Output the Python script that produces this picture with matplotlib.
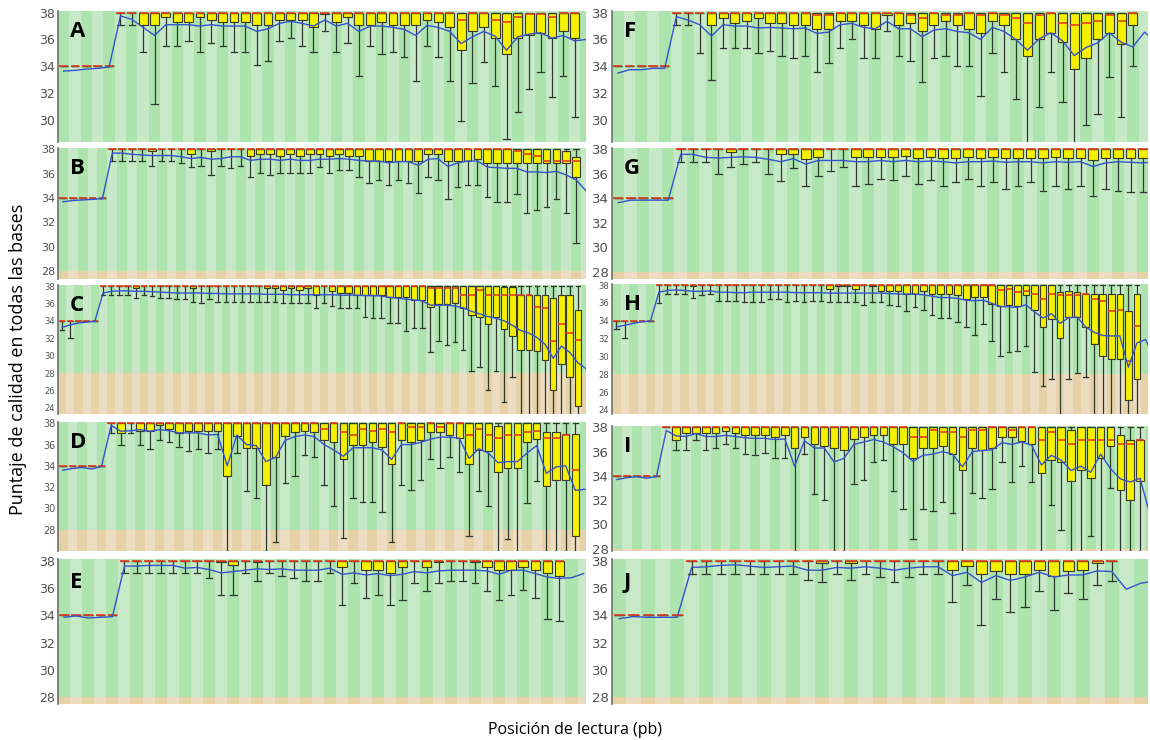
import matplotlib.pyplot as plt
from matplotlib.patches import Rectangle

# Per-base quality (FastQC style).
# first five entries = bases 1-5, then one entry per box; means may carry
# extra trailing values for positions cut off at the right edge.
# med / q3 dicts: box number (1 = first box after base 5) -> value, default 38

a_mean = [33.65, 33.7, 33.8, 33.85, 33.95,
          37.75, 37.5, 36.9, 36.3, 37.1, 37.1, 37.1, 37.0, 37.1, 37.0,
          37.0, 37.0, 36.6, 36.8, 37.2, 37.35, 37.2, 37.0, 37.45, 37.0,
          37.2, 36.6, 37.0, 37.0, 36.9, 36.75, 36.3, 37.05, 36.9, 36.6,
          35.7, 36.2, 36.6, 36.25, 35.2, 36.2, 36.4, 36.5, 36.1, 36.3,
          35.9, 36.0]
a_q1 = [34, 34, 34, 34, 34,
        38, 38, 37.1, 37.1, 37.7, 37.3, 37.3, 37.7, 37.45, 37.3,
        37.3, 37.3, 37.1, 37.1, 37.45, 37.45, 37.45, 36.9, 37.9, 37.3,
        37.7, 37.1, 37.1, 37.3, 37.1, 37.1, 37.1, 37.45, 37.3, 36.9,
        35.25, 36.6, 36.9, 36.1, 34.95, 36.1, 36.3, 36.5, 36.1, 36.6,
        36.1]
a_lo = [34, 34, 34, 34, 34,
        37.1, 37.1, 35.1, 31.2, 35.5, 35.5, 35.9, 35.1, 35.75, 35.5,
        35.1, 35.1, 34.1, 34.4, 35.9, 36.1, 35.5, 35.1, 36.6, 35.1,
        35.75, 33.3, 35.5, 34.95, 35.1, 34.7, 32.9, 35.5, 34.7, 32.9,
        29.95, 32.75, 34.3, 32.55, 28.6, 30.6, 32.3, 33.6, 31.75, 33.3,
        30.2]
a_med = {31: 37.45, 34: 37.45, 35: 37.3, 36: 37.7, 37: 37.9, 38: 37.9, 39: 37.7}
a_q3 = {}

b_mean = [33.7, 33.8, 33.85, 33.9, 33.95,
          37.7, 37.7, 37.6, 37.55, 37.5, 37.5, 37.5, 37.4, 37.25, 37.35,
          37.2, 37.25, 37.4, 37.4, 37.1, 37.2, 37.2, 37.1, 37.2, 37.1,
          37.1, 37.2, 37.2, 37.25, 37.2, 37.1, 37.05, 37.05, 36.9, 37.0,
          37.0, 36.7, 37.2, 37.25, 36.6, 36.9, 37.05, 37.05, 36.55, 36.5,
          36.45, 36.45, 36.15, 36.15, 36.1, 36.2, 35.9, 35.5,
          34.6]
b_q1 = [34, 34, 34, 34, 34,
        38, 38, 38, 38, 37.9, 38, 38, 38, 37.65, 38,
        37.9, 38, 38, 38, 37.5, 37.65, 37.65, 37.5, 37.65, 37.5,
        37.65, 37.65, 37.5, 37.65, 37.5, 37.5, 37.05, 37.05, 37.05, 37.05,
        37.05, 37.05, 37.65, 37.65, 37.05, 37.05, 37.05, 37.25, 36.9, 36.9,
        36.9, 36.85, 36.85, 36.85, 36.85, 36.85, 36.85, 35.7]
b_lo = [34, 34, 34, 34, 34,
        37.05, 37.05, 37.05, 37.05, 36.6, 37.05, 37.05, 36.85, 36.55, 36.6,
        35.9, 36.6, 36.5, 36.6, 35.7, 36.1, 35.9, 36.1, 36.1, 36.1,
        36.1, 36.55, 36.1, 36.3, 36.3, 35.7, 35.25, 35.5, 35.05, 35.5,
        35.25, 34.45, 35.7, 35.5, 33.9, 34.9, 35.05, 35.05, 34.1, 33.7,
        33.7, 34.3, 32.75, 33.05, 33.3, 33.9, 32.75, 30.3]
b_med = {42: 37.9, 43: 37.65, 44: 37.5, 45: 37.05, 46: 37.05, 47: 37.05, 48: 37.05}
b_q3 = {47: 37.85, 48: 37.4}

c_mean = [33.25, 33.55, 33.75, 33.85, 33.95,
          37.2, 37.4, 37.45, 37.45, 37.4, 37.4, 37.35, 37.3, 37.25, 37.2,
          37.2, 37.2, 37.2, 37.15, 37.15, 37.1, 37.1, 37.1, 37.1, 37.1,
          37.05, 37.05, 37.05, 37.0, 37.0, 37.0, 37.0, 37.0, 37.0, 36.95,
          36.95, 36.95, 36.9, 36.9, 36.85, 36.7, 36.6, 36.5, 36.4, 36.3,
          35.8, 35.8, 35.8, 35.7, 35.5, 35.1, 34.8, 34.5, 34.3, 34.0,
          33.5, 32.9, 32.6, 32.1, 31.3, 29.7, 31.1, 30.4, 29.2,
          28.5]
c_q1 = [34, 34, 34, 34, 34,
        38, 38, 38, 38, 37.8, 38, 38, 38, 38, 38,
        38, 37.8, 38, 38, 38, 38, 38, 38, 38, 38,
        37.8, 37.8, 37.6, 37.8, 37.6, 37.8, 37.0, 38, 37.4, 37.25,
        37.25, 37.0, 37.0, 37.0, 37.0, 36.75, 36.75, 36.75, 36.4, 36.4,
        35.6, 35.9, 35.9, 36.0, 35.45, 34.7, 34.5, 33.65, 34.4, 33.1,
        32.25, 30.6, 30.6, 30.5, 29.5, 26.0, 29.0, 27.5, 24.2]
c_lo = [33.0, 32.05, 34, 34, 34,
        37.0, 37.0, 37.0, 37.0, 36.6, 37.0, 36.9, 36.6, 36.6, 36.5,
        36.5, 36.2, 36.1, 36.5, 36.2, 36.2, 36.2, 36.2, 36.2, 36.2,
        36.2, 36.2, 36.1, 36.0, 36.0, 36.0, 35.45, 36.0, 35.75, 35.45,
        35.45, 35.45, 34.5, 34.3, 34.3, 33.75, 33.75, 32.8, 33.2, 33.2,
        30.4, 31.7, 31.25, 31.6, 30.6, 28.2, 28.75, 26.1, 28.2, 24.7,
        27.5, 20, 20, 20, 20, 20, 20, 20, 20]
c_med = {41: 37.8, 42: 37.8, 43: 37.8, 44: 37.8, 45: 37.0, 46: 37.0, 47: 37.5,
         48: 37.0, 49: 37.0, 50: 37.0, 51: 37.0, 52: 36.95, 53: 36.95,
         54: 35.6, 55: 35.45, 56: 31.7, 57: 33.65, 58: 32.6, 59: 31.75}
c_q3 = {50: 37.9, 51: 37.9, 52: 36.95, 53: 36.95, 54: 36.95, 55: 36.95,
        56: 36.6, 57: 36.95, 58: 36.95, 59: 35.25}

d_mean = [33.6, 33.75, 33.85, 33.7, 33.95,
          37.8, 37.25, 37.3, 37.4, 37.25, 37.4, 37.3, 37.1, 37.1, 37.1,
          36.9, 36.95, 34.0, 36.9, 36.0, 35.9, 34.4, 34.8, 36.4, 36.75,
          36.9, 36.75, 36.0, 35.5, 34.9, 35.7, 35.7, 35.7, 35.5, 34.6,
          36.0, 36.0, 36.2, 36.5, 36.7, 36.7, 36.6, 34.7, 35.6, 35.2,
          34.3, 34.4, 34.4, 35.2, 35.9, 33.3, 33.9, 34.0, 31.7,
          31.8]
d_q1 = [34, 34, 34, 34, 34,
        38, 37.1, 38, 37.3, 37.3, 37.8, 37.5, 37.05, 37.3, 37.3,
        37.3, 37.3, 33.0, 36.8, 35.7, 35.7, 32.2, 34.8, 36.8, 37.2,
        37.3, 37.2, 36.45, 36.2, 34.6, 36.0, 36.0, 36.2, 35.8, 34.2,
        36.45, 36.2, 36.45, 37.2, 37.2, 36.9, 36.6, 34.2, 35.5, 35.4,
        33.4, 33.8, 33.8, 36.2, 36.5, 32.15, 32.7, 32.7, 27.4]
d_lo = [34, 34, 34, 34, 34,
        37.1, 36.0, 37.05, 36.0, 35.6, 36.45, 36.2, 35.75, 35.4, 35.6,
        35.2, 35.6, 26.0, 35.2, 31.6, 31.0, 26.0, 26.8, 32.4, 33.0,
        35.0, 34.8, 32.2, 30.25, 27.25, 31.0, 30.6, 30.6, 29.7, 26.8,
        32.2, 31.75, 32.7, 34.6, 33.8, 34.8, 33.4, 27.4, 31.6, 30.25,
        24, 27.1, 24, 30.5, 32.6, 24, 24, 24, 24]
d_med = {23: 37.5, 25: 37.2, 26: 36.9, 27: 37.5, 28: 37.3, 29: 37.5, 30: 37.2,
         32: 37.65, 33: 37.65, 35: 37.65, 38: 36.9, 39: 37.5, 40: 36.9,
         41: 36.6, 42: 36.9, 43: 36.9, 44: 37.2, 45: 37.3, 46: 36.6,
         47: 36.6, 48: 36.9, 49: 33.6}
d_q3 = {41: 37.7, 46: 37.2, 47: 37.2, 48: 37.0, 49: 37.0}

e_mean = [33.85, 33.95, 33.8, 33.85, 33.9,
          37.6, 37.6, 37.65, 37.65, 37.65, 37.45, 37.5, 37.35, 37.1, 37.2,
          37.3, 37.4, 37.35, 37.4, 37.3, 37.3, 37.3, 37.45, 37.0, 37.1,
          36.95, 37.05, 36.9, 37.0, 37.2, 37.1, 37.25, 37.3, 37.3, 37.3,
          37.25, 37.0, 37.3, 37.3, 37.05, 36.8, 36.7,
          36.75, 37.05]
e_q1 = [34, 34, 34, 34, 34,
        38, 38, 38, 38, 38, 38, 38, 38, 37.9, 37.7,
        38, 37.9, 38, 38, 38, 38, 38, 38, 37.5, 38,
        37.35, 37.35, 37.1, 37.5, 38, 37.5, 37.9, 38, 38, 37.9,
        37.5, 37.35, 37.35, 37.5, 37.35, 37.1, 36.9]
e_lo = [34, 34, 34, 34, 34,
        37.1, 37.1, 37.1, 37.1, 37.1, 37.1, 37.1, 36.7, 35.5, 35.5,
        37.1, 36.5, 37.1, 36.9, 36.7, 36.5, 36.5, 37.1, 34.75, 36.35,
        35.3, 35.5, 34.75, 35.1, 36.35, 35.75, 36.35, 36.5, 36.5, 36.35,
        35.75, 35.1, 35.5, 35.85, 35.3, 33.7, 33.55]
e_med = {}
e_q3 = {}

f_mean = [33.5, 33.75, 33.75, 33.85, 33.85,
          37.7, 37.45, 37.1, 36.25, 37.1, 37.0, 37.0, 36.85, 36.9, 36.85,
          36.8, 36.85, 36.45, 36.55, 37.1, 37.2, 36.9, 36.8, 37.35, 36.8,
          36.8, 36.2, 36.7, 36.8, 36.6, 36.5, 36.0, 36.9, 36.6, 36.0,
          35.2, 36.05, 36.5, 35.9, 34.8, 35.4, 35.75, 36.5, 35.8, 35.45,
          36.55, 35.8]
f_q1 = [34, 34, 34, 34, 34,
        38, 38, 38, 37.05, 37.6, 37.2, 37.4, 37.6, 37.2, 37.2,
        37.05, 37.05, 36.8, 36.8, 37.4, 37.4, 37.05, 36.8, 37.8, 37.05,
        37.2, 36.6, 37.05, 37.4, 37.05, 36.8, 36.5, 37.4, 37.05, 36.0,
        34.8, 36.0, 36.5, 35.8, 33.8, 34.6, 36.0, 36.5, 35.65, 37.05]
f_lo = [34, 34, 34, 34, 34,
        37.05, 37.05, 35.0, 33.0, 35.4, 35.4, 35.4, 35.0, 35.15, 34.8,
        34.6, 34.8, 33.6, 34.25, 35.4, 36.0, 34.6, 34.6, 36.6, 34.8,
        34.4, 32.8, 34.6, 34.8, 34.0, 34.0, 31.8, 35.0, 33.6, 31.6,
        27.0, 31.0, 33.6, 31.35, 27.0, 29.6, 30.45, 33.2, 30.2, 34.0]
f_med = {13: 37.8, 14: 37.8, 21: 37.8, 22: 37.6, 24: 37.8, 25: 37.8, 27: 37.8,
         29: 37.8, 30: 37.6, 31: 37.2, 32: 37.8, 34: 37.2, 35: 37.05,
         36: 37.2, 37: 37.4, 38: 37.8, 39: 37.4}
f_q3 = {}

g_mean = [33.65, 33.85, 33.85, 33.85, 33.85,
          37.6, 37.6, 37.35, 37.3, 37.35, 37.4, 37.35, 37.2, 37.0, 37.25,
          36.8, 37.1, 37.1, 37.1, 37.0, 37.0, 37.1, 37.0, 37.1, 37.0,
          37.05, 37.0, 36.9, 37.0, 37.0, 37.05, 36.95, 37.0, 37.0, 36.9,
          37.0, 36.95, 37.0, 36.6, 36.9, 37.0, 36.95, 36.9,
          37.0]
g_q1 = [34, 34, 34, 34, 34,
        38, 38, 38, 38, 37.8, 38, 38, 38, 37.6, 37.6,
        37.25, 37.4, 38, 38, 37.4, 37.4, 37.4, 37.4, 37.45, 37.3,
        37.4, 37.3, 37.3, 37.4, 37.3, 37.4, 37.3, 37.3, 37.3, 37.3,
        37.4, 37.3, 37.3, 37.1, 37.3, 37.3, 37.3, 37.3]
g_lo = [34, 34, 34, 34, 34,
        37.0, 37.0, 37.0, 36.0, 36.6, 36.8, 37.0, 36.0, 35.45, 36.45,
        35.0, 35.8, 36.2, 36.6, 35.0, 35.2, 35.6, 35.5, 35.8, 35.2,
        35.5, 35.0, 35.3, 35.6, 35.0, 35.3, 34.8, 35.0, 35.3, 34.6,
        35.0, 34.8, 35.0, 34.2, 34.8, 34.6, 34.5, 34.5]
g_med = {}
g_q3 = {}

h_mean = [33.3, 33.5, 33.7, 33.9, 33.95,
          37.2, 37.4, 37.45, 37.4, 37.3, 37.3, 37.35, 37.2, 37.2, 37.15,
          37.15, 37.2, 37.2, 37.2, 37.2, 37.2, 37.15, 37.15, 37.15, 37.15,
          37.1, 37.1, 37.1, 37.1, 37.1, 37.1, 37.1, 37.05, 37.0, 37.0,
          37.0, 36.9, 36.75, 36.6, 36.6, 36.5, 36.3, 36.25, 36.3, 35.95,
          35.6, 35.55, 35.5, 35.8, 35.0, 34.3, 34.8, 33.7, 34.35, 34.4,
          33.3, 32.7, 32.35, 32.3, 32.3, 28.8, 31.5,
          31.9, 30.0]
h_q1 = [34, 34, 34, 34, 34,
        38, 38, 38, 38, 37.85, 38, 38, 38, 38, 38,
        38, 38, 38, 38, 38, 38, 38, 38, 38, 38,
        37.55, 37.85, 37.85, 37.55, 38, 37.85, 37.3, 37.3, 37.3, 37.0,
        37.0, 37.3, 37.0, 37.0, 37.0, 36.85, 36.4, 36.65, 36.65, 35.85,
        35.6, 35.75, 35.6, 36.85, 35.2, 33.25, 34.15, 32.05, 34.4, 34.4,
        33.3, 31.45, 30.05, 29.7, 29.7, 25.1, 27.45]
h_lo = [33.05, 32.05, 34, 34, 34,
        35.95, 37.0, 37.0, 37.0, 36.55, 36.85, 37.0, 36.2, 36.2, 36.2,
        36.05, 36.05, 36.05, 36.4, 36.4, 36.05, 36.2, 36.05, 36.2, 36.2,
        36.05, 36.05, 36.05, 36.05, 35.75, 36.05, 36.05, 35.75, 35.6, 35.05,
        35.5, 35.2, 34.6, 34.3, 34.3, 33.9, 33.3, 32.35, 33.6, 31.7,
        30.1, 30.5, 30.6, 31.15, 28.3, 26.7, 27.45, 20, 27.45, 28.1,
        27.75, 20, 20, 20, 20, 20, 20]
h_med = {41: 37.4, 42: 37.55, 43: 37.2, 44: 37.3, 45: 37.0, 46: 36.4, 47: 37.05,
         48: 36.85, 49: 36.85, 50: 36.9, 51: 37.0, 52: 36.4, 53: 36.2,
         54: 35.05, 55: 35.2, 56: 29.45, 57: 33.4}
h_q3 = {48: 37.2, 49: 37.3, 50: 37.2, 51: 37.05, 52: 37.0, 53: 37.0,
        54: 37.0, 55: 37.0, 56: 35.05, 57: 37.0}

i_mean = [33.7, 33.85, 33.95, 33.8, 33.95,
          37.75, 37.3, 37.25, 37.5, 37.25, 37.25, 37.35, 37.25, 37.15, 37.1,
          37.1, 37.0, 37.05, 34.8, 36.9, 36.3, 36.3, 35.15, 35.45, 36.6,
          36.8, 37.0, 36.8, 36.4, 35.9, 35.2, 35.7, 35.8, 36.0, 35.8,
          34.75, 36.0, 36.1, 36.15, 36.75, 36.6, 36.8, 36.55, 34.9, 35.7,
          35.3, 34.45, 34.8, 34.3, 35.8, 34.6, 33.75, 33.5, 33.8,
          30.8]
i_q1 = [34, 34, 34, 34, 34,
        38, 37.0, 37.55, 37.55, 37.55, 37.55, 37.7, 37.55, 37.35, 37.35,
        37.35, 37.25, 37.35, 36.3, 37.25, 36.65, 36.5, 36.3, 36.1, 37.05,
        37.25, 37.35, 37.35, 36.65, 36.65, 35.45, 36.3, 36.3, 36.5, 35.8,
        34.45, 36.3, 36.15, 36.3, 37.25, 37.25, 36.85, 36.65, 34.25, 35.3,
        35.15, 33.55, 34.5, 33.8, 35.5, 36.5, 32.8, 32.0, 33.55]
i_lo = [34, 34, 34, 34, 34,
        38, 36.1, 36.1, 37.0, 36.1, 36.3, 36.6, 36.3, 35.8, 35.7,
        35.9, 35.5, 35.5, 20, 35.8, 32.5, 32.0, 20, 20, 33.3,
        33.7, 35.15, 35.3, 32.75, 31.25, 28.8, 31.25, 31.1, 31.85, 30.95,
        20, 32.6, 32.2, 32.9, 35.15, 33.5, 34.8, 33.5, 20, 31.6,
        29.55, 20, 20, 29.05, 20, 33.0, 20, 20, 20]
i_med = {26: 37.25, 27: 37.25, 28: 37.8, 29: 37.6, 30: 37.6, 31: 37.25, 32: 37.8,
         33: 37.8, 36: 37.8, 39: 37.0, 40: 37.6, 41: 37.0, 42: 36.6, 43: 37.0,
         44: 37.0, 45: 37.0, 46: 37.0, 47: 36.6, 48: 36.6, 49: 37.0}
i_q3 = {42: 37.8, 47: 37.35, 48: 37.0, 49: 37.0}

j_mean = [33.75, 33.9, 33.85, 33.85, 33.85,
          37.5, 37.55, 37.65, 37.7, 37.6, 37.5, 37.55, 37.6, 37.3, 37.3,
          37.5, 37.45, 37.55, 37.45, 37.3, 37.45, 37.55, 37.55, 36.9, 37.15,
          36.4, 36.9, 36.55, 36.8, 37.15, 36.8, 36.95, 36.95, 37.25, 37.2,
          35.9, 36.35, 36.5]
j_q1 = [34, 34, 34, 34, 34,
        38, 38, 38, 38, 38, 38, 38, 38, 38, 37.85,
        38, 37.85, 38, 38, 38, 38, 38, 38, 37.35, 37.6,
        37.0, 37.25, 37.0, 37.0, 37.35, 36.9, 37.25, 37.35, 37.85, 38]
j_lo = [34, 34, 34, 34, 34,
        37.0, 37.0, 37.0, 37.0, 37.0, 37.0, 37.0, 37.0, 36.6, 36.45,
        37.0, 36.6, 37.0, 36.8, 36.45, 36.8, 37.0, 37.0, 35.0, 36.25,
        33.25, 35.2, 34.25, 34.6, 35.8, 34.4, 35.65, 35.2, 36.25, 36.5]
j_med = {}
j_q3 = {}

letters = ['A', 'B', 'C', 'D', 'E', 'F', 'G', 'H', 'I', 'J']
means = [a_mean, b_mean, c_mean, d_mean, e_mean, f_mean, g_mean, h_mean, i_mean, j_mean]
q1s = [a_q1, b_q1, c_q1, d_q1, e_q1, f_q1, g_q1, h_q1, i_q1, j_q1]
los = [a_lo, b_lo, c_lo, d_lo, e_lo, f_lo, g_lo, h_lo, i_lo, j_lo]
meds = [a_med, b_med, c_med, d_med, e_med, f_med, g_med, h_med, i_med, j_med]
q3s = [a_q3, b_q3, c_q3, d_q3, e_q3, f_q3, g_q3, h_q3, i_q3, j_q3]

# layout: (left px, right px, top px, bottom px), y bottom, x right, y ticks, tick size
W, H = 1150, 740
layout = {
    'A': ((58, 586, 11, 142), 28.37, 47.0, [30, 32, 34, 36, 38], 9),
    'B': ((58, 586, 148, 279), 27.35, 54.0, [28, 30, 32, 34, 36, 38], 8),
    'C': ((58, 586, 285, 414), 23.3, 65.0, [24, 26, 28, 30, 32, 34, 36, 38], 6),
    'D': ((58, 586, 422, 551), 26.0, 55.1, [28, 30, 32, 34, 36, 38], 7),
    'E': ((58, 586, 559, 704), 27.5, 44.2, [28, 30, 32, 34, 36, 38], 9),
    'F': ((612, 1148, 11, 142), 28.37, 46.3, [30, 32, 34, 36, 38], 9.5),
    'G': ((612, 1148, 148, 279), 27.4, 43.4, [28, 30, 32, 34, 36, 38], 9.5),
    'H': ((612, 1148, 284, 414), 23.55, 63.3, [24, 26, 28, 30, 32, 34, 36, 38], 6),
    'I': ((612, 1148, 426, 551), 27.8, 54.8, [28, 30, 32, 34, 36, 38], 9.5),
    'J': ((612, 1148, 559, 704), 27.5, 37.5, [28, 30, 32, 34, 36, 38], 9.5),
}

GREEN = ('#c8e9c8', '#ade3ad')
TAN = ('#ebdcc2', '#e6d2a6')


def box_stats(q1, lo, med, q3):
    out = []
    for i in range(len(q1)):
        k = i - 4
        top = 34 if k < 1 else 38
        out.append({'q1': q1[i], 'whislo': lo[i], 'med': med.get(k, top),
                    'q3': q3.get(k, top), 'whishi': top, 'fliers': []})
    return out


fig = plt.figure(figsize=(W / 100, H / 100), dpi=100)

for n, letter in enumerate(letters):
    (x0, x1, y0, y1), ybot, xmax, ticks, tfs = layout[letter]
    ax = fig.add_axes([x0 / W, 1 - y1 / H, (x1 - x0) / W, (y1 - y0) / H])
    mean, q1, lo = means[n], q1s[n], los[n]
    assert len(q1) == len(lo), letter

    for i in range(1, int(xmax) + 2):
        dark = i % 2
        ax.add_patch(Rectangle((i - 0.5, 28), 1, 12, facecolor=GREEN[dark],
                               edgecolor='none', zorder=0))
        ax.add_patch(Rectangle((i - 0.5, 10), 1, 18, facecolor=TAN[dark],
                               edgecolor='none', zorder=0))

    ax.bxp(box_stats(q1, lo, meds[n], q3s[n]), positions=range(1, len(q1) + 1),
           widths=0.78, capwidths=0.55, patch_artist=True, showfliers=False,
           manage_ticks=False,
           boxprops=dict(facecolor='#f4f000', edgecolor='#3a3a2a', linewidth=0.8),
           whiskerprops=dict(color='#2e3a2e', linewidth=0.9),
           capprops=dict(color='#2e3a2e', linewidth=0.9),
           medianprops=dict(color='#e2401e', linewidth=1.2))
    ax.plot(range(1, len(mean) + 1), mean, color='#3553cf', linewidth=1.0, zorder=5)

    ax.set_xlim(0.5, xmax)
    ax.set_ylim(ybot, 38.12)
    ax.set_xticks([])
    ax.set_yticks(ticks)
    ax.tick_params(axis='y', length=0, pad=2, labelsize=tfs, labelcolor='#505050')
    for side in ('top', 'right', 'bottom'):
        ax.spines[side].set_visible(False)
    ax.spines['left'].set_color('#707070')
    ax.spines['left'].set_linewidth(1.2)
    ax.text(0.022, 0.84, letter, transform=ax.transAxes, fontsize=16,
            fontweight='bold', family='Open Sans', va='center', ha='left', zorder=6)

fig.text(0.016, 0.515, 'Puntaje de calidad en todas las bases', rotation=90,
         fontsize=13, family='Open Sans', va='center', ha='center')
fig.text(0.5, 0.013, 'Posición de lectura (pb)', fontsize=11.5,
         family='Open Sans', va='center', ha='center')

fig.savefig('out.png', dpi=100)
